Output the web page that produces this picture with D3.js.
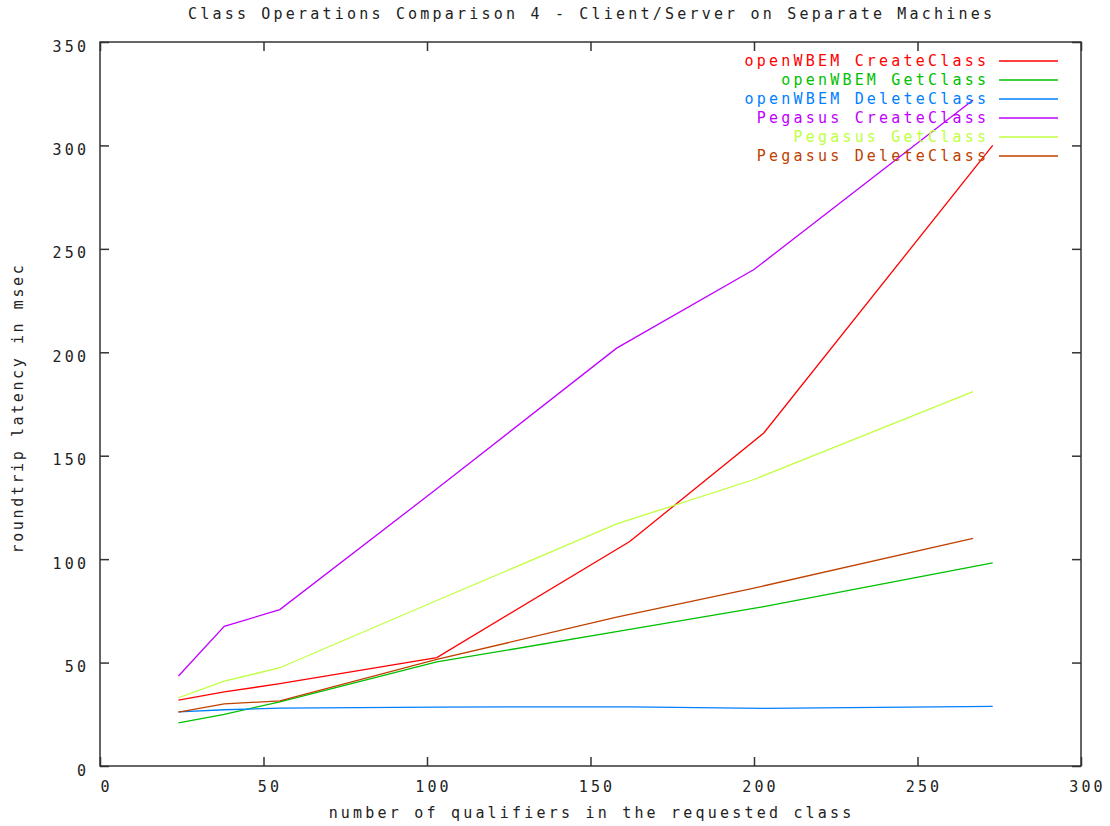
<!DOCTYPE html>
<html>
<head>
<meta charset="utf-8">
<script src="https://cdn.jsdelivr.net/npm/d3@7"></script>
<style>
  body { margin: 0; background: #fff; }
  text { font-family: "DejaVu Sans Mono", monospace; font-size: 15px; letter-spacing: 3.2px; fill: #222; }
</style>
</head>
<body>
<div id="chart-area"></div>
<script>
// x values (number of qualifiers)
var wbemX    = [24, 38, 55, 103, 162, 203, 273];
var pegasusX = [24, 38, 55, 103, 158, 200, 267];

// latency values in msec
var wbemCreate  = [31.8, 35.8, 39.8, 52.4, 108.5, 161, 300];
var wbemGet     = [20.8, 25, 31, 50.3, 66, 77, 98.2];
var wbemDelete  = [26.2, 27.2, 28, 28.5, 28.6, 27.9, 28.8];
var pegCreate   = [43.5, 67.5, 75.6, 134, 202, 240, 322];
var pegGet      = [33, 41, 47.5, 80, 117, 138.5, 181];
var pegDelete   = [26, 30, 31.5, 51.5, 72, 86, 110];

var seriesNames = ["openWBEM CreateClass", "openWBEM GetClass", "openWBEM DeleteClass",
                   "Pegasus CreateClass", "Pegasus GetClass", "Pegasus DeleteClass"];
var seriesColors = ["#ff0000", "#00c000", "#0080ff", "#c000ff", "#c0ff40", "#c04000"];

var xTicks = [0, 50, 100, 150, 200, 250, 300];
var yTicks = [0, 50, 100, 150, 200, 250, 300, 350];

var series = [
    { name: seriesNames[0], color: seriesColors[0], x: wbemX, y: wbemCreate },
    { name: seriesNames[1], color: seriesColors[1], x: wbemX, y: wbemGet },
    { name: seriesNames[2], color: seriesColors[2], x: wbemX, y: wbemDelete },
    { name: seriesNames[3], color: seriesColors[3], x: pegasusX, y: pegCreate },
    { name: seriesNames[4], color: seriesColors[4], x: pegasusX, y: pegGet },
    { name: seriesNames[5], color: seriesColors[5], x: pegasusX, y: pegDelete }
];

var margin = { left: 100, right: 29, top: 42, bottom: 60 };
var width = 1110 - margin.left - margin.right,
    height = 826 - margin.top - margin.bottom;
var ls = 3.2; // letter spacing, used to re-centre text

var svg = d3.select("#chart-area")
    .append("svg")
        .attr("width", 1110)
        .attr("height", 826);

var g = svg.append("g")
    .attr("transform", "translate(" + margin.left + ", " + margin.top + ")");

var x = d3.scaleLinear().domain([0, 300]).range([0, width]);
var y = d3.scaleLinear().domain([0, 350]).range([height, 0]);

// Inward ticks on all four sides
function styleAxis(sel) {
    sel.select(".domain").remove();
    sel.selectAll(".tick line").attr("stroke", "#333").attr("stroke-width", 1.5);
}

var xAxis = g.append("g")
    .attr("transform", "translate(0," + height + ")")
    .call(d3.axisBottom(x).tickValues(xTicks).tickSize(-9).tickPadding(15));
styleAxis(xAxis);
xAxis.selectAll(".tick text")
    .attr("font-size", null).attr("font-family", null)
    .attr("dx", 6);

g.append("g")
    .call(d3.axisTop(x).tickValues(xTicks).tickSize(-9).tickFormat(""))
    .call(styleAxis);

var yAxis = g.append("g")
    .call(d3.axisLeft(y).tickValues(yTicks).tickSize(-9).tickPadding(14));
styleAxis(yAxis);
yAxis.selectAll(".tick text")
    .attr("font-size", null).attr("font-family", null)
    .attr("dy", "0.6em")
    .attr("dx", ls);

g.append("g")
    .attr("transform", "translate(" + width + ",0)")
    .call(d3.axisRight(y).tickValues(yTicks).tickSize(-9).tickFormat(""))
    .call(styleAxis);

// Frame
g.append("rect")
    .attr("width", width)
    .attr("height", height)
    .attr("fill", "none")
    .attr("stroke", "#333")
    .attr("stroke-width", 1.5);

// Lines
var line = d3.line()
    .x(function(d){ return x(d[0]); })
    .y(function(d){ return y(d[1]); });

g.selectAll(".series")
    .data(series)
    .enter()
    .append("path")
        .attr("class", "series")
        .attr("fill", "none")
        .attr("stroke", function(d){ return d.color; })
        .attr("stroke-width", 1.3)
        .attr("d", function(d){ return line(d3.zip(d.x, d.y)); });

// Legend
var legend = svg.append("g");
var rows = legend.selectAll(".row")
    .data(series)
    .enter()
    .append("g")
        .attr("class", "row")
        .attr("transform", function(d, i){ return "translate(0," + (61 + i * 19) + ")"; });

rows.append("text")
    .attr("x", 986 + ls)
    .attr("y", 5)
    .attr("text-anchor", "end")
    .style("fill", function(d){ return d.color; })
    .text(function(d){ return d.name; });

rows.append("line")
    .attr("x1", 999)
    .attr("x2", 1058)
    .attr("stroke", function(d){ return d.color; })
    .attr("stroke-width", 1.5);

// Title
svg.append("text")
    .attr("x", 590 + ls / 2)
    .attr("y", 19)
    .attr("text-anchor", "middle")
    .text("Class Operations Comparison 4 - Client/Server on Separate Machines");

// X Label
svg.append("text")
    .attr("x", 590 + ls / 2)
    .attr("y", 818)
    .attr("text-anchor", "middle")
    .text("number of qualifiers in the requested class");

// Y Label
svg.append("text")
    .attr("transform", "translate(23," + 408 + ") rotate(-90)")
    .attr("text-anchor", "middle")
    .style("letter-spacing", "2.6px")
    .text("roundtrip latency in msec");
</script>
</body>
</html>
